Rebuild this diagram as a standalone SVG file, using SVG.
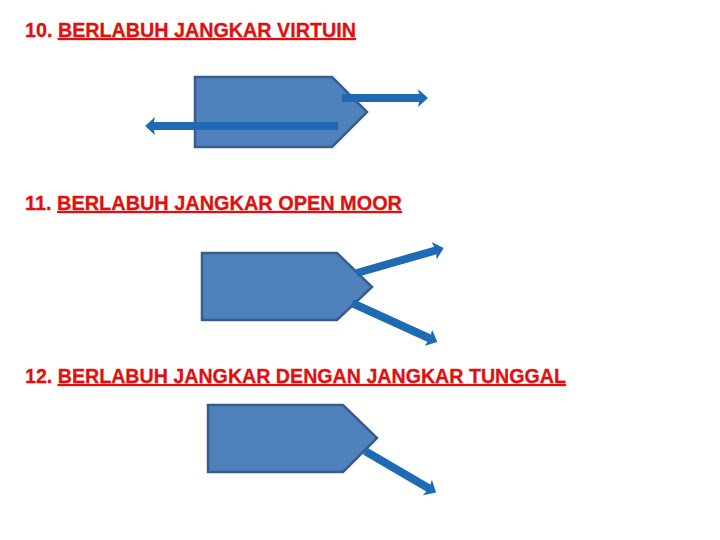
<svg xmlns="http://www.w3.org/2000/svg" width="720" height="540" viewBox="0 0 720 540">
<style>
.t{font-family:"Liberation Sans",Arial,sans-serif;font-weight:bold;font-size:20px;fill:#e01010;stroke:#e01010;stroke-width:0.3}
.u{text-decoration:underline}
.ship{fill:#4f81bd;stroke:#385d8a;stroke-width:2.5;stroke-linejoin:miter}
.arr{stroke:#1f6ab4;stroke-width:8;fill:none;marker-end:url(#ah)}
</style>
<defs>
<marker id="ah" viewBox="0 0 10 18" refX="3" refY="9" markerUnits="userSpaceOnUse" markerWidth="10" markerHeight="18" orient="auto">
<path d="M0,0 L10,9 L0,18 L2,9 Z" fill="#1f6ab4"/>
</marker>
</defs>
<rect width="720" height="540" fill="#fff"/>
<text class="t" x="25" y="37" textLength="331" lengthAdjust="spacingAndGlyphs">10. <tspan class="u">BERLABUH JANGKAR VIRTUIN</tspan></text>
<text class="t" x="25" y="210" textLength="377" lengthAdjust="spacingAndGlyphs">11. <tspan class="u">BERLABUH JANGKAR OPEN MOOR</tspan></text>
<text class="t" x="25" y="383" textLength="541" lengthAdjust="spacingAndGlyphs">12. <tspan class="u">BERLABUH JANGKAR DENGAN JANGKAR TUNGGAL</tspan></text>
<g id="ship1"><path class="ship" d="M195,77 H332 L367,112 L332,147 H195 Z"/></g>
<g id="ship2"><path class="ship" d="M202,253 H337 L372,287 L337,320 H202 Z"/></g>
<g id="ship3"><path class="ship" d="M208,405 H343 L377,438 L343,472 H208 Z"/></g>
<g id="connectors">
<line class="arr" x1="342" y1="98" x2="421" y2="98"/>
<line class="arr" x1="338" y1="126" x2="152" y2="126"/>
<line class="arr" x1="357" y1="273" x2="437" y2="250"/>
<line class="arr" x1="352" y1="303" x2="431" y2="339"/>
<line class="arr" x1="365" y1="451" x2="430" y2="489"/>
</g>
</svg>
